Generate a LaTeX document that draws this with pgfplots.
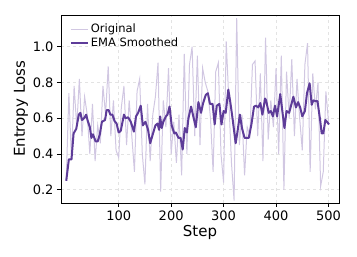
\documentclass[border=0pt]{standalone}
\usepackage{pgfplots}
\pgfplotsset{compat=1.18}
\usepackage{fontspec}
\setmainfont{DejaVu Sans}
\definecolor{emac}{RGB}{94,60,153}
\definecolor{origc}{RGB}{209,199,226}
\begin{document}
\begin{tikzpicture}
\useasboundingbox (-61pt,-54pt) rectangle (296pt,203pt);
\begin{axis}[
  at={(0,0)}, anchor=south west,
  scale only axis, width=278pt, height=188pt,
  xmin=-10, xmax=520, ymin=0.126, ymax=1.177,
  xtick={100,200,300,400,500},
  ytick={0.2,0.4,0.6,0.8,1.0},
  yticklabel style={/pgf/number format/.cd, fixed, fixed zerofill, precision=1},
  /pgf/number format/assume math mode=true,
  tick label style={font=\fontsize{13}{14}\selectfont},
  label style={font=\fontsize{15}{16}\selectfont},
  xlabel={Step}, ylabel={Entropy Loss},
  xlabel style={yshift=2pt},
  ylabel style={yshift=-2pt},
  tick align=outside, xtick pos=bottom, ytick pos=left,
  major tick length=4pt,
  tick style={black, line width=0.8pt},
  axis line style={black, line width=0.8pt},
  grid=major,
  major grid style={dashed, gray!22, line width=0.6pt},
  legend style={at={(0.02,0.975)}, anchor=north west, draw=none, fill=none,
    font=\fontsize{11.5}{12.5}\selectfont, row sep=0pt},
  legend cell align=left,
]
\addplot[origc, line width=1pt] coordinates {
(0,0.25)(5,0.74)(10,0.37)(15,0.78)(20,0.55)(25,0.82)(30,0.50)(35,0.72)(40,0.62)(45,0.40)
(50,0.68)(55,0.36)(60,0.56)(65,0.46)(70,0.78)(75,0.62)(80,0.89)(85,0.50)(90,0.70)(95,0.42)
(100,0.38)(105,0.66)(110,0.78)(115,0.45)(120,0.70)(125,0.50)(130,0.30)(135,0.75)(140,0.82)(145,0.40)
(150,0.23)(155,0.68)(160,0.36)(165,0.62)(170,0.72)(175,0.91)(180,0.19)(185,0.70)(190,0.55)(195,0.88)
(200,0.40)(205,0.58)(210,0.35)(215,0.62)(220,0.28)(225,0.96)(230,0.40)(235,0.90)(240,1.00)(245,0.50)
(250,0.95)(255,0.45)(260,0.88)(265,0.80)(270,0.75)(275,0.60)(280,0.30)(285,0.86)(290,0.91)(295,0.40)
(300,0.24)(305,1.03)(310,0.70)(315,0.35)(320,0.14)(325,1.16)(330,0.45)(335,0.62)(340,0.28)(345,0.55)
(350,0.50)(355,0.90)(360,0.92)(365,0.50)(370,0.85)(375,0.36)(380,1.05)(385,0.48)(390,0.70)(395,0.55)
(400,0.88)(405,0.40)(410,0.95)(415,0.20)(420,0.86)(425,0.60)(430,0.93)(435,0.50)(440,0.82)(445,0.60)
(450,0.42)(455,0.90)(460,1.02)(465,0.30)(470,0.85)(475,0.65)(480,0.80)(485,0.22)(490,0.30)(495,0.75)
(500,0.58)
};
\addlegendentry{Original}
\addplot[emac, line width=2pt, line join=round] coordinates {
(0,0.25)(5,0.37)(10,0.37)(14,0.515)(19,0.54)(24,0.62)(27,0.63)(30,0.59)(34,0.60)(38,0.62)
(41,0.585)(45,0.55)(48,0.49)(51,0.51)(56,0.47)(60,0.47)(64,0.51)(68,0.58)(74,0.59)(77,0.645)
(81,0.645)(84,0.62)(88,0.62)(92,0.585)(96,0.57)(100,0.52)(104,0.53)(110,0.62)(113,0.60)(118,0.605)
(123,0.58)(129,0.525)(133,0.61)(137,0.63)(142,0.67)(146,0.56)(151,0.58)(156,0.535)(160,0.46)(165,0.51)
(170,0.56)(174,0.57)(177,0.535)(179,0.61)(182,0.545)(185,0.58)(190,0.61)(193,0.62)(197,0.665)(201,0.56)
(206,0.515)(209,0.52)(214,0.49)(218,0.49)(222,0.425)(226,0.545)(230,0.52)(233,0.60)(238,0.665)(243,0.60)
(247,0.55)(252,0.69)(257,0.63)(261,0.685)(266,0.73)(270,0.74)(274,0.68)(279,0.68)(283,0.565)(287,0.67)
(292,0.68)(296,0.565)(300,0.64)(304,0.63)(309,0.76)(313,0.685)(317,0.60)(323,0.46)(327,0.535)(331,0.62)
(335,0.545)(340,0.49)(345,0.49)(348,0.49)(353,0.565)(358,0.665)(362,0.67)(366,0.66)(370,0.685)(374,0.62)
(379,0.71)(381,0.70)(386,0.63)(390,0.64)(394,0.61)(398,0.67)(402,0.61)(408,0.735)(412,0.64)(416,0.545)
(420,0.64)(425,0.63)(429,0.675)(433,0.72)(438,0.66)(442,0.69)(446,0.66)(450,0.61)(455,0.64)(459,0.74)
(464,0.795)(468,0.675)(471,0.70)(476,0.695)(479,0.695)(484,0.59)(487,0.515)(490,0.515)(494,0.59)(497,0.58)
(501,0.565)
};
\addlegendentry{EMA Smoothed}
\end{axis}
\end{tikzpicture}
\end{document}
